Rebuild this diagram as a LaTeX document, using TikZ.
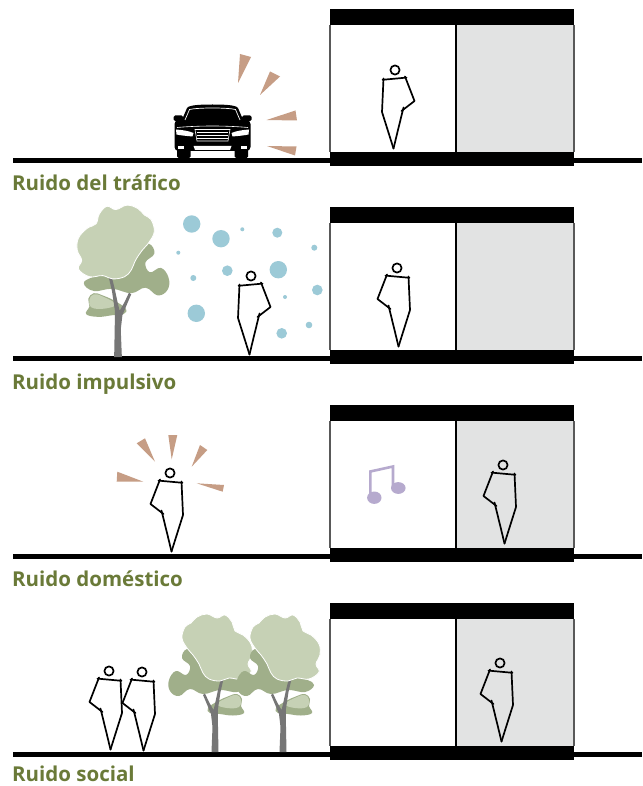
\documentclass[tikz,border=0pt]{standalone}
\usepackage{fontspec}
\newfontfamily\labelfont{Open Sans}
\definecolor{labelgreen}{HTML}{6A7A38}
\definecolor{leaflight}{HTML}{C6D1B5}
\definecolor{leafdark}{HTML}{A0AF8A}
\definecolor{trunkgray}{HTML}{767676}
\definecolor{roomgray}{HTML}{E2E3E3}
\definecolor{noisetan}{HTML}{C69D85}
\definecolor{bubble}{HTML}{9CCAD7}
\definecolor{notecol}{HTML}{B6AACE}
\begin{document}
\begin{tikzpicture}[x=1pt,y=-1pt,
  figline/.style={line width=1.7pt, line join=round, line cap=round, black},
  lbl/.style={anchor=base west, inner sep=0pt, text=labelgreen,
    font=\labelfont\bfseries\fontsize{20.5}{24}\selectfont},
  wedge/.style={fill=noisetan},
  person/.pic={
    \draw[figline] (0,0) circle (4.6);
    \draw[figline] (-12.5,9.8) -- (11.5,7.6);
    \draw[figline] (-11.5,8.5) -- (-13,42) -- (-1.5,78.5);
    \draw[figline] (10,6.5) -- (19.5,31) -- (6.5,41);
    \draw[figline] (8.5,37.5) -- (2,64) -- (-1.5,78.5);
  },
  tree/.pic={
    % back foliage with the side arm
    \fill[leafdark] plot[smooth cycle, tension=0.7] coordinates {
      (-28,-103) (-15,-100) (-5,-82) (22,-73) (31,-67) (22,-60) (5,-62)
      (-12,-58) (-25,-63) (-36,-56) (-45,-61) (-46,-72) (-39,-81)
      (-29,-77) (-25,-86) (-33,-94)};
    % small low tuft
    \fill[leafdark] plot[smooth cycle, tension=0.7] coordinates {
      (-7,-44) (3,-51) (14,-56) (22,-58) (27,-53) (26,-46) (29,-39)
      (18,-36.5) (5,-38) (-5,-39)};
    \fill[leaflight] plot[smooth cycle, tension=0.7] coordinates {
      (2,-48) (14,-55) (22,-57) (26,-52) (24,-45) (12,-44)};
    % trunk and branches
    \fill[trunkgray] (-3.5,0) -- (-2.5,-25) -- (-4,-38) -- (-9,-50)
      -- (-12,-57) -- (-10,-58.5) -- (-6,-50) -- (-1.5,-42) -- (0,-48)
      -- (3,-62) -- (6,-74) -- (8.5,-73) -- (5.5,-60) -- (2.8,-42)
      -- (3,-25) -- (3.5,0) -- cycle;
    % main crown
    \filldraw[fill=leaflight, draw=white, line width=0.8pt]
      plot[smooth cycle, tension=0.65] coordinates {
      (-30,-125) (-24,-129) (-18,-135) (-8,-138) (2,-134) (10,-137)
      (17,-130) (20,-121) (28,-117) (36,-108) (37,-97) (33,-88) (36,-80)
      (26,-73) (14,-74) (5,-71) (-6,-73) (-12,-79) (-16,-88) (-22,-97)
      (-28,-104) (-33,-114)};
  }
]
\useasboundingbox (0,0) rectangle (642,786);
\fill[white] (0,0) rectangle (642,786);

% ground lines and building sections, one per row
\foreach \dy in {0,198,396,594} {
  \begin{scope}[shift={(0,\dy)}]
    \fill[black] (13,158) rectangle (642,163);
    \fill[roomgray] (456,25) rectangle (574,152);
    \draw[gray!70!black, line width=1.1pt] (330,25) -- (330,152);
    \draw[gray!70!black, line width=1.1pt] (574,25) -- (574,152);
    \draw[black, line width=1.1pt] (456,25) -- (456,152);
    \fill[black] (330,9) rectangle (574,25);
    \fill[black] (330,152) rectangle (574,166);
  \end{scope}
}

% ---- row 1: traffic ----
% car, front view
\fill[black] (181,122) -- (187,108) .. controls (189,105) and (200,104.5) .. (212.5,104.5)
  .. controls (225,104.5) and (236,105) .. (238,108) -- (244,122) -- cycle;
\fill[black, rounded corners=4pt] (174.5,120) rectangle (250.5,151);
\fill[black, rounded corners=1.5pt] (173.5,115.5) rectangle (183,121);
\fill[black, rounded corners=1.5pt] (242,115.5) rectangle (251.5,121);
\fill[black, rounded corners=1.5pt] (177,146) rectangle (190.5,158);
\fill[black, rounded corners=1.5pt] (234.5,146) rectangle (248,158);
\draw[white, line width=0.7pt] (185,120) -- (189.5,109.5)
  .. controls (198,107.5) and (227,107.5) .. (235.5,109.5) -- (240,120);
\draw[white, line width=0.6pt] (177,127.5) .. controls (200,125.5) and (225,125.5) .. (248,127.5);
\fill[white] (176,129.5) .. controls (183,130) and (189,131) .. (193.5,133)
  -- (192.5,136.5) .. controls (187,136) and (181,135.5) .. (176.5,134.5) -- cycle;
\fill[white] (249,129.5) .. controls (242,130) and (236,131) .. (231.5,133)
  -- (232.5,136.5) .. controls (238,136) and (244,135.5) .. (248.5,134.5) -- cycle;
\draw[white, line width=0.6pt] (195,129.5) -- (230,129.5) -- (228,141) -- (197,141) -- cycle;
\foreach \gy in {132.5,135.5,138.3}
  \draw[white, line width=1.1pt] (197,\gy) -- (228,\gy);
\fill[white] (193.5,146) -- (231.5,146) -- (230,150) -- (195,150) -- cycle;
\fill[white] (178,146.5) rectangle (184,149.5);
\fill[white] (241,146.5) rectangle (247,149.5);
% noise wedges around the car
\fill[wedge] (240,54) -- (251,57) -- (238,83) -- cycle;
\fill[wedge] (270,71.5) -- (280,76.5) -- (260,95) -- cycle;
\fill[wedge] (295.5,110.5) -- (297,120.5) -- (266.5,120) -- cycle;
\fill[wedge] (296.5,146.5) -- (295,155.5) -- (267,146) -- cycle;
\pic at (395,70) {person};
\node[lbl] (lab1) at (12,191) {Ruido del tráfico};

% ---- row 2: impulsive ----
\pic[xscale=-1.1, yscale=1.1] at (118,357) {tree};
\foreach \bx/\by/\br in {191.7/224/8.7, 221/238.7/8.7, 242.3/229.3/2,
  277.3/232.7/5, 314.3/247.7/3, 178.3/252.7/2, 227.3/270.7/5.3,
  278.3/269.7/8.7, 193.3/278/3, 285/297/2, 317.3/290/5.3,
  196.3/313.3/8.7, 309/325/3.3, 281.7/333.3/5.3}
  \fill[bubble] (\bx,\by) circle (\br);
\pic at (251,276) {person};
\pic[xscale=-1] at (397,268) {person};
\node[lbl] (lab2) at (12,389) {Ruido impulsivo};

% ---- row 3: domestic ----
\fill[wedge] (136.7,443.3) -- (145,438.3) -- (155,461.7) -- cycle;
\fill[wedge] (168.3,435) -- (177.3,435) -- (171.7,459.3) -- cycle;
\fill[wedge] (200,445) -- (207.3,450) -- (191.7,466.7) -- cycle;
\fill[wedge] (117.3,471.7) -- (116.7,481.7) -- (143.3,481.7) -- cycle;
\fill[wedge] (224,485) -- (222.7,491.7) -- (196.7,483.3) -- cycle;
\pic[xscale=-1] at (170,473) {person};
% music note
\draw[notecol, line width=2.6pt, line join=miter] (370.3,496) -- (370.3,471.5)
  -- (393,466.5) -- (393,487);
\fill[notecol] (374.3,497.7) ellipse (7.2 and 6.2);
\fill[notecol] (398.3,488) ellipse (7.3 and 5.9);
\pic[xscale=-1] at (503,465) {person};
\node[lbl] (lab3) at (12,586) {Ruido doméstico};

% ---- row 4: social ----
\pic[xscale=-1] at (109,671) {person};
\pic[xscale=-1] at (142,672) {person};
\pic at (215,752) {tree};
\pic at (283,752) {tree};
\pic[xscale=-1] at (500,663) {person};
\node[lbl] (lab4) at (12,781) {Ruido social};
\end{tikzpicture}
\end{document}
